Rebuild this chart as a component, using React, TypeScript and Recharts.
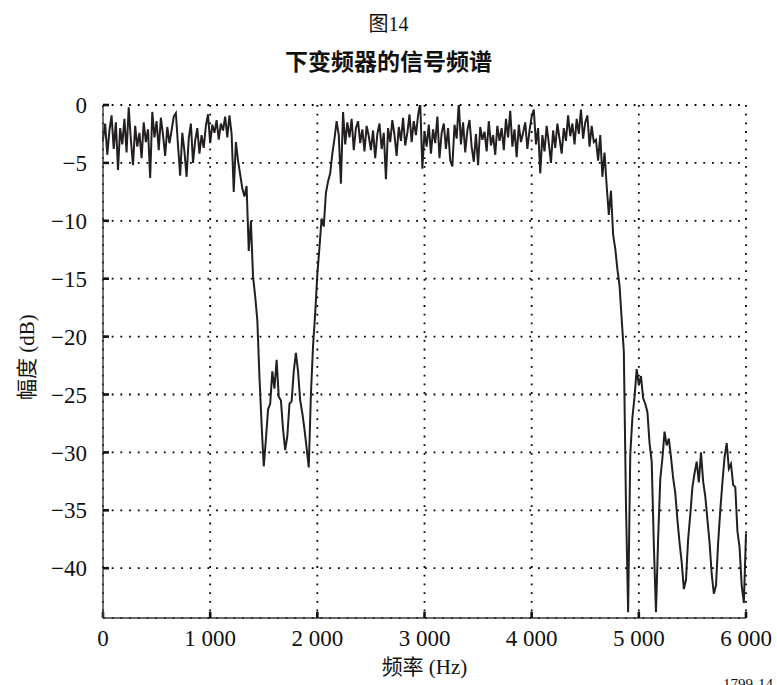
import { LineChart, Line, XAxis, YAxis, CartesianGrid } from "recharts";

// spectrum level in dB, sampled every 20 Hz from 0 to 6000 Hz
const freqStep = 20;
const levelDb = [
  -3.0, -1.6, -4.3, -2.2, -0.9, -3.8, -1.5, -5.6, -2.0, -3.4,
  -1.2, -4.1, -0.2, -3.0, -5.2, -1.8, -3.6, -2.4, -4.6, -1.5,
  -3.2, -2.1, -6.3, -0.6, -2.8, -1.4, -3.9, -1.1, -2.6, -4.4,
  -1.9, -3.3, -2.2, -1.0, -0.7, -3.5, -6.1, -2.4, -4.0, -6.2,
  -2.9, -1.6, -5.0, -3.1, -2.0, -4.2, -2.6, -3.7, -1.8, -0.8,
  -3.3, -1.7, -2.4, -1.3, -3.0, -1.6, -2.2, -1.0, -2.8, -0.9,
  -2.5, -7.5, -3.2, -4.8, -6.0, -7.2, -7.9, -7.0, -12.6, -10.0,
  -14.8, -16.5, -18.6, -23.5, -27.6, -31.2, -28.9, -26.3, -25.8, -23.0,
  -24.5, -22.0, -25.2, -25.5, -28.0, -29.8, -28.6, -25.8, -25.6, -23.0,
  -21.4, -23.0, -25.5, -26.6, -28.0, -29.6, -31.3, -25.0, -20.8, -18.0,
  -14.6, -12.3, -9.8, -10.5, -7.6, -6.6, -5.9, -4.2, -2.9, -1.4,
  -2.6, -6.8, -0.6, -3.4, -1.5, -2.8, -1.2, -3.9, -2.0, -1.4,
  -3.3, -2.1, -4.0, -1.8, -2.7, -3.9, -2.2, -4.6, -2.5, -1.6,
  -3.8, -2.4, -6.4, -2.0, -3.2, -1.3, -2.6, -4.4, -1.9, -3.1,
  -1.1, -3.5, -2.4, -0.8, -3.2, -1.4, -2.6, -0.9, 0.2, -5.5,
  -2.3, -3.6, -1.7, -4.2, -2.1, -3.3, -1.0, -4.6, -2.4, -1.6,
  -3.8, -2.0, -4.8, -5.3, -1.7, -2.9, 0.2, -3.4, -1.5, -4.1,
  -2.2, -1.3, -3.6, -4.9, -2.5, -5.2, -1.9, -3.0, -2.3, -4.0,
  -1.4, -3.5, -2.6, -4.3, -1.8, -3.1, -2.0, -3.9, -1.2, -2.8,
  -0.5, -3.6, -2.1, -4.5, -1.7, -3.2, -2.4, -1.5, -3.8, -2.2,
  -1.0, -0.4, -3.4, -2.0, -5.9, -2.6, -4.0, -1.8, -3.3, -5.0,
  -2.2, -3.7, -1.6, -2.9, -4.2, -2.0, -3.1, -0.9, -2.7, -1.6,
  -3.4, -1.2, -2.5, -0.4, -2.9, -1.5, -0.9, -3.6, -1.8, -3.2,
  -3.0, -4.8, -2.6, -6.2, -4.1, -7.0, -9.5, -7.4, -11.2, -12.4,
  -14.2, -15.6, -18.5, -21.3, -34.5, -43.8, -30.2, -27.0, -25.2, -22.8,
  -24.2, -23.4, -25.3, -25.8, -26.5, -29.2, -30.8, -38.0, -43.8, -37.5,
  -32.3, -30.5, -28.2, -29.4, -28.8, -30.4, -32.2, -33.5, -35.8, -37.8,
  -39.5, -41.8, -41.0, -37.5, -35.4, -33.0, -31.8, -30.8, -32.6, -30.0,
  -32.5, -33.8, -35.8, -37.8, -40.5, -42.2, -41.5, -37.8, -35.0, -32.6,
  -30.4, -29.2, -31.4, -31.0, -32.8, -33.0, -36.8, -38.2, -41.5, -43.0,
  -37.0,
];

const freqTicks = [0, 1000, 2000, 3000, 4000, 5000, 6000];
const levelTicks = [0, -5, -10, -15, -20, -25, -30, -35, -40];

const chartData = levelDb.map((db, i) => ({ hz: i * freqStep, db }));

const fmtHz = (v: number) => (v === 0 ? "0" : `${v / 1000} 000`);
const fmtDb = (v: number) => (v === 0 ? "0" : `\u2212${Math.abs(v)}`);
const blank = () => "";

const serif = "'Liberation Serif', 'Times New Roman', 'Noto Sans CJK SC', serif";
const tickFont = { fill: "#111", fontSize: 23, fontFamily: serif };
const axisLine = { stroke: "#3a3a3a", strokeWidth: 1.4 };
const tickLine = { stroke: "#111", strokeWidth: 2.6 };

export default function App() {
  return (
    <div
      style={{
        position: "absolute",
        left: 0,
        top: 0,
        width: 777,
        height: 685,
        overflow: "hidden",
        background: "#fff",
        fontFamily: serif,
        color: "#111",
      }}
    >
      <div style={{ position: "absolute", top: 8, width: 777, textAlign: "center", fontSize: 20 }}>
        图14
      </div>
      <div
        style={{
          position: "absolute",
          top: 43,
          width: 777,
          textAlign: "center",
          fontSize: 23,
          fontWeight: 700,
          fontFamily: "'Noto Sans CJK SC', sans-serif",
        }}
      >
        下变频器的信号频谱
      </div>

      <LineChart
        width={777}
        height={685}
        data={chartData}
        margin={{ top: 105, right: 31, bottom: 0, left: 0 }}
      >
        <CartesianGrid
          xAxisId="b"
          yAxisId="l"
          stroke="#000"
          strokeWidth={1.8}
          strokeDasharray="1.8 6.9"
        />
        <XAxis
          xAxisId="b"
          dataKey="hz"
          type="number"
          domain={[0, 6000]}
          ticks={freqTicks}
          tickFormatter={fmtHz}
          tickSize={-6}
          tickMargin={18}
          height={67}
          axisLine={axisLine}
          tickLine={tickLine}
          tick={tickFont}
          interval={0}
        />
        <XAxis
          xAxisId="t"
          orientation="top"
          dataKey="hz"
          type="number"
          domain={[0, 6000]}
          ticks={freqTicks}
          tickFormatter={blank}
          tickSize={-6}
          height={0}
          axisLine={axisLine}
          tickLine={tickLine}
        />
        <YAxis
          yAxisId="l"
          type="number"
          domain={[-44.3, 0]}
          allowDataOverflow
          ticks={levelTicks}
          tickFormatter={fmtDb}
          tickSize={-6}
          tickMargin={22}
          width={103}
          axisLine={axisLine}
          tickLine={tickLine}
          tick={tickFont}
          interval={0}
        />
        <YAxis
          yAxisId="r"
          orientation="right"
          type="number"
          domain={[-44.3, 0]}
          allowDataOverflow
          ticks={levelTicks}
          tickFormatter={blank}
          tickSize={-6}
          width={0}
          axisLine={axisLine}
          tickLine={tickLine}
        />
        <Line
          xAxisId="b"
          yAxisId="l"
          type="linear"
          dataKey="db"
          stroke="#231f20"
          strokeWidth={2}
          dot={false}
          isAnimationActive={false}
        />
      </LineChart>

      <div
        style={{
          position: "absolute",
          left: 0,
          top: 345,
          width: 44,
          textAlign: "center",
          fontSize: 21,
          transform: "rotate(-90deg)",
          transformOrigin: "22px 12px",
          whiteSpace: "nowrap",
        }}
      >
        <span style={{ display: "inline-block", marginLeft: -30, marginRight: -30 }}>幅度 (dB)</span>
      </div>
      <div style={{ position: "absolute", left: 103, top: 650, width: 643, textAlign: "center", fontSize: 21 }}>
        频率 (Hz)
      </div>
      <div style={{ position: "absolute", right: 4, top: 676, fontSize: 15 }}>1799-14</div>
    </div>
  );
}
